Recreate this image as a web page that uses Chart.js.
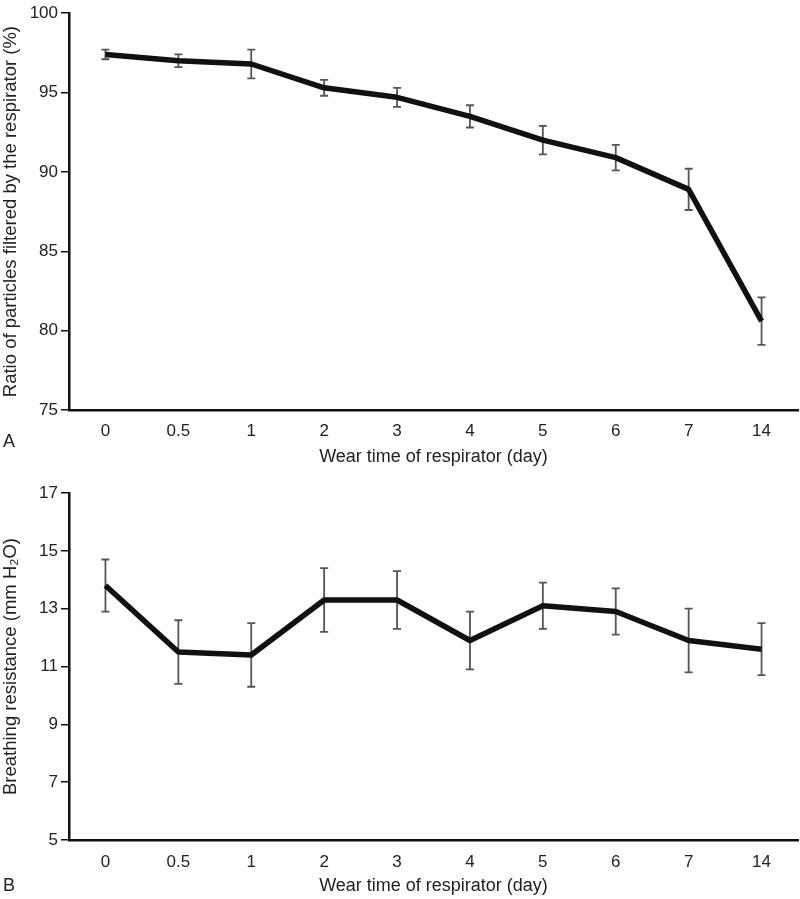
<!DOCTYPE html>
<html>
<head>
<meta charset="utf-8">
<script src="https://cdn.jsdelivr.net/npm/chart.js@4"></script>
<style>
  body { margin: 0; background: #fff; }
  .box { position: absolute; left: 0; width: 800px; }
  #boxA { top: 0; height: 470px; }
  #boxB { top: 470px; height: 429px; }
</style>
</head>
<body>
<div class="box" id="boxA"><canvas id="chartA"></canvas></div>
<div class="box" id="boxB"><canvas id="chartB"></canvas></div>
<script>
// wear time categories (day)
const days = ['0', '0.5', '1', '2', '3', '4', '5', '6', '7', '14'];

// panel A: ratio of particles filtered (%)
const filterMean = [97.4, 97.0, 96.8, 95.3, 94.7, 93.5, 92.0, 90.9, 88.9, 80.6];
const filterErr  = [0.3, 0.4, 0.9, 0.5, 0.6, 0.7, 0.9, 0.8, 1.3, 1.5];
const filterTicks = [75, 80, 85, 90, 95, 100];

// panel B: breathing resistance (mm H2O)
const resistMean = [13.8, 11.5, 11.4, 13.3, 13.3, 11.9, 13.1, 12.9, 11.9, 11.6];
const resistErr  = [0.9, 1.1, 1.1, 1.1, 1.0, 1.0, 0.8, 0.8, 1.1, 0.9];
const resistTicks = [5, 7, 9, 11, 13, 15, 17];

const FONT = 'Liberation Sans, Arial, sans-serif';

// vertical error bars with caps, placed through the chart scales
const errorBars = {
  id: 'errorBars',
  beforeDatasetsDraw(chart, args, opts) {
    const ctx = chart.ctx;
    const x = chart.scales.x, y = chart.scales.y;
    const means = chart.data.datasets[0].data;
    ctx.save();
    ctx.strokeStyle = '#555';
    ctx.lineWidth = 1.8;
    means.forEach((m, i) => {
      const px = x.getPixelForValue(i);
      const top = y.getPixelForValue(m + opts.err[i]);
      const bot = y.getPixelForValue(m - opts.err[i]);
      ctx.beginPath();
      ctx.moveTo(px, top); ctx.lineTo(px, bot);
      ctx.moveTo(px - 4, top); ctx.lineTo(px + 4, top);
      ctx.moveTo(px - 4, bot); ctx.lineTo(px + 4, bot);
      ctx.stroke();
    });
    ctx.restore();
  }
};

// panel letter (A / B) at the lower left
const panelLetter = {
  id: 'panelLetter',
  afterDraw(chart, args, opts) {
    const ctx = chart.ctx;
    ctx.save();
    ctx.fillStyle = '#222';
    ctx.font = '18px ' + FONT;
    ctx.textBaseline = 'middle';
    ctx.fillText(opts.text, 3, opts.y);
    ctx.restore();
  }
};

function makeChart(id, mean, err, ticks, yTitle, letter, letterY, padTop, xHeight, labelPad) {
  return new Chart(document.getElementById(id), {
    type: 'line',
    data: {
      labels: days,
      datasets: [{
        data: mean,
        borderColor: '#111',
        borderWidth: 5.5,
        borderJoinStyle: 'round',
        pointRadius: 0,
        tension: 0,
        fill: false
      }]
    },
    options: {
      responsive: true,
      maintainAspectRatio: false,
      animation: false,
      layout: { padding: { top: padTop, right: 2, left: 0, bottom: 0 } },
      plugins: {
        legend: { display: false },
        tooltip: { enabled: false },
        errorBars: { err: err },
        panelLetter: { text: letter, y: letterY }
      },
      scales: {
        x: {
          offset: true,
          afterFit(axis) { axis.height = xHeight; },
          grid: { display: false, drawTicks: false },
          border: { display: true, color: '#111', width: 2.5 },
          ticks: { color: '#222', font: { family: FONT, size: 17 }, padding: labelPad },
          title: {
            display: true, text: 'Wear time of respirator (day)', color: '#222',
            font: { family: FONT, size: 18 }, padding: { top: 0, bottom: 2 }
          }
        },
        y: {
          min: ticks[0],
          max: ticks[ticks.length - 1],
          afterBuildTicks(axis) { axis.ticks = ticks.map(v => ({ value: v })); },
          afterFit(axis) { axis.width = 69; },
          grid: { drawOnChartArea: false, drawTicks: true, tickLength: 8, color: '#111', lineWidth: 1.5 },
          border: { display: true, color: '#111', width: 2.5 },
          ticks: { color: '#222', font: { family: FONT, size: 17 }, padding: 3 },
          title: {
            display: true, text: yTitle, color: '#222',
            font: { family: FONT, size: 18.5 }, padding: { top: 0, bottom: 0 }
          }
        }
      }
    },
    plugins: [errorBars, panelLetter]
  });
}

makeChart('chartA', filterMean, filterErr, filterTicks,
  'Ratio of particles filtered by the respirator (%)', 'A', 442, 10, 60, 11);
makeChart('chartB', resistMean, resistErr, resistTicks,
  'Breathing resistance (mm H\u2082O)', 'B', 416, 23, 59, 12);
</script>
</body>
</html>
